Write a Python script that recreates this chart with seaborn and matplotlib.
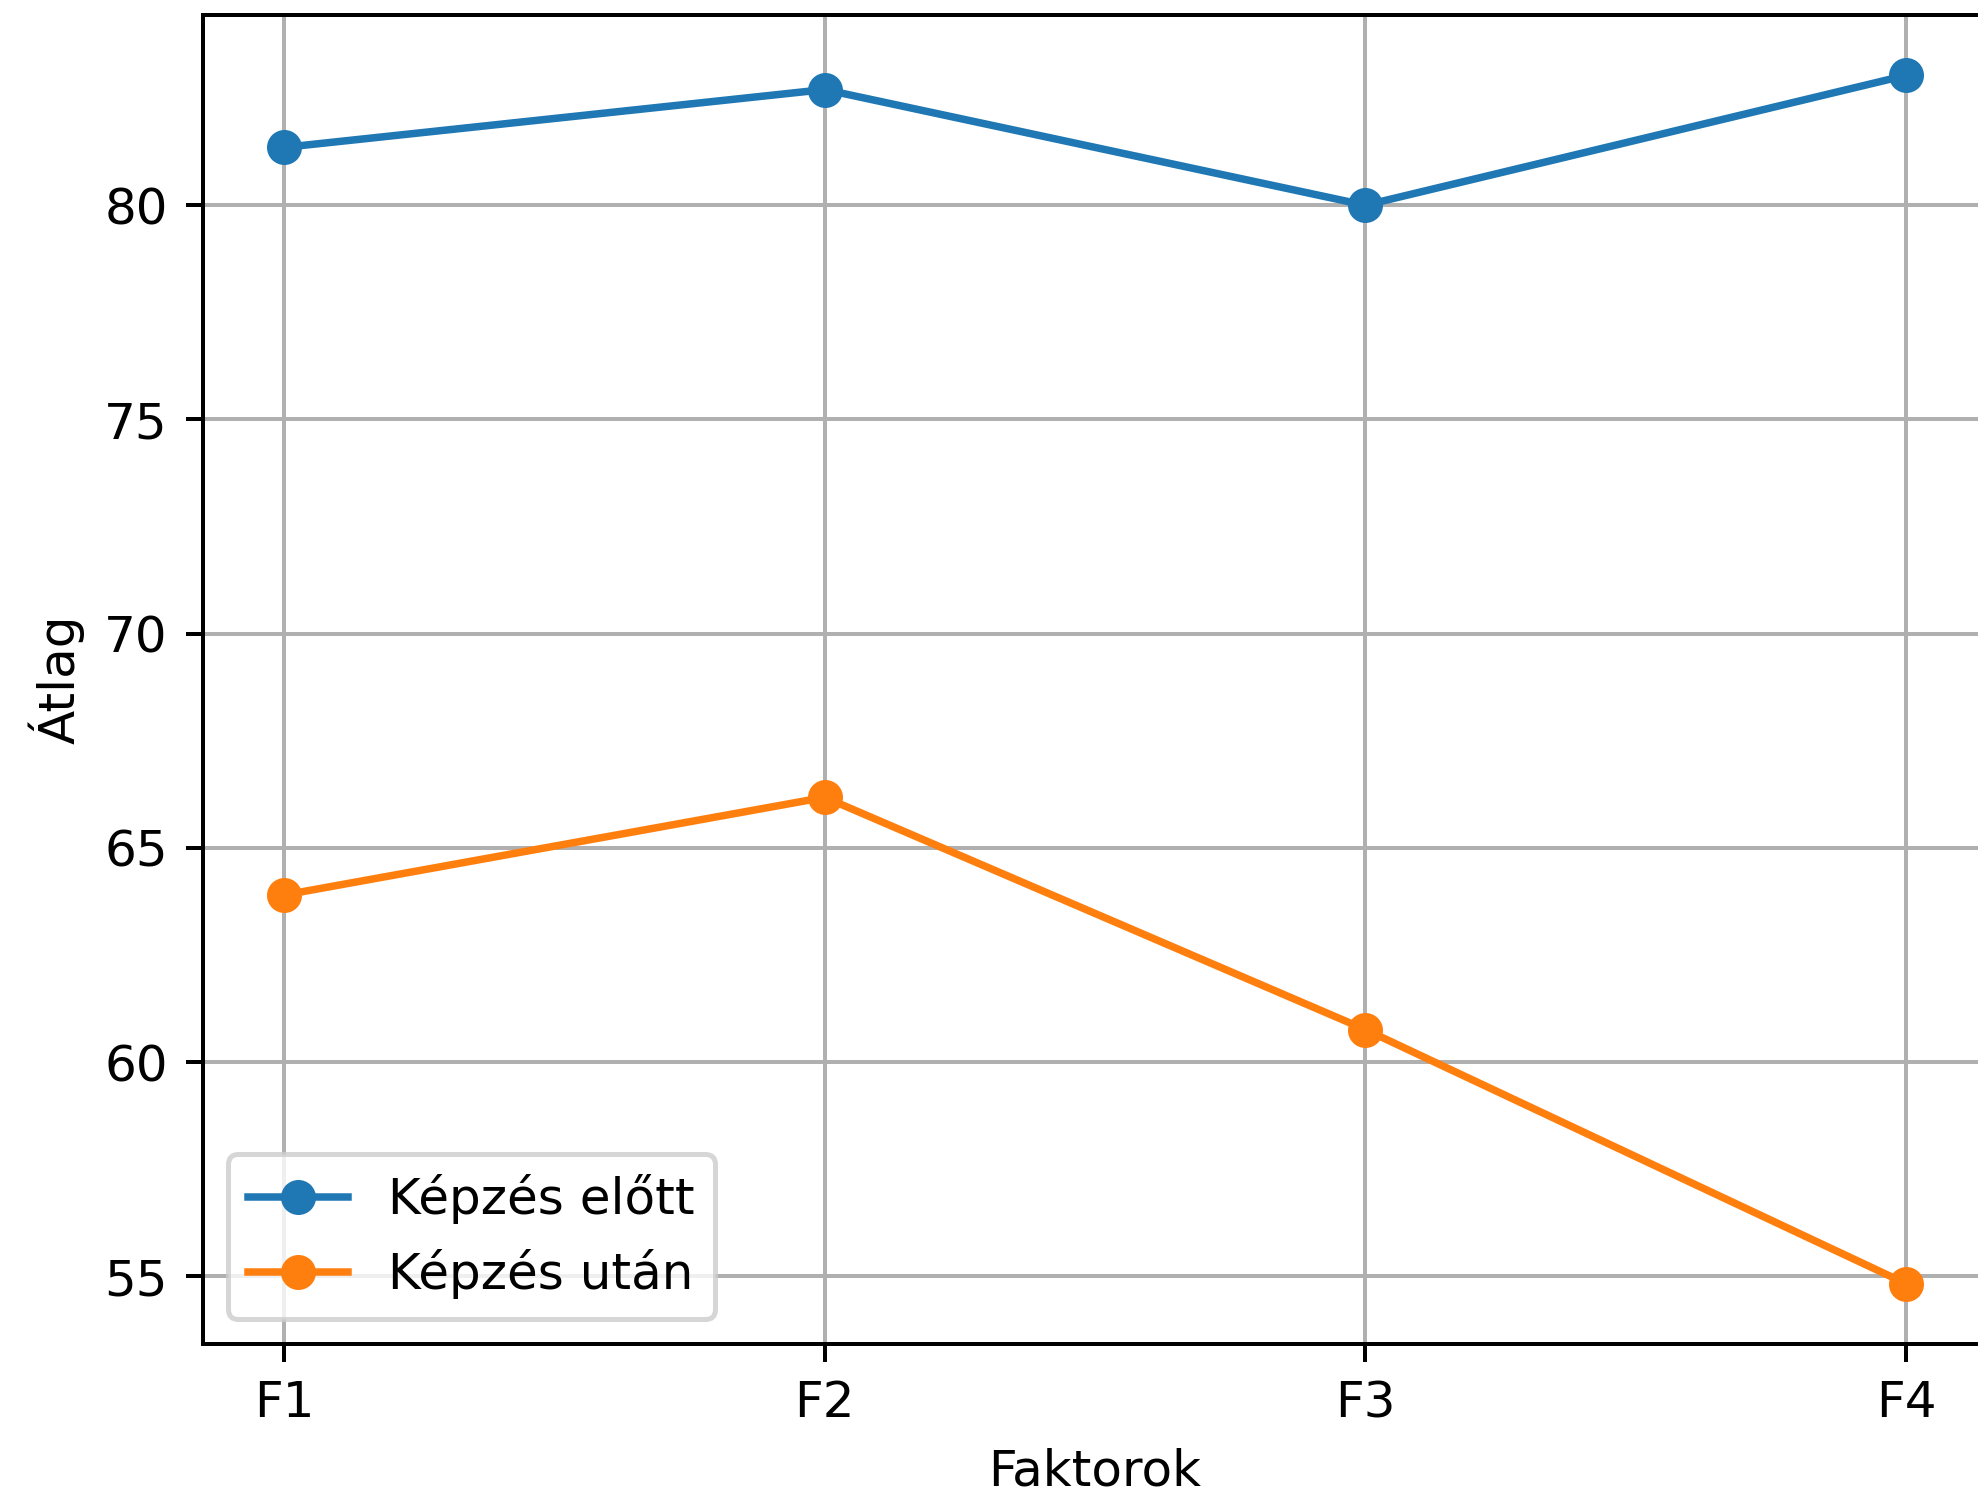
import pandas as pd
import matplotlib
matplotlib.use("Agg")
import matplotlib.pyplot as plt
import seaborn as sns

faktorok = ["F1", "F2", "F3", "F4"]
elott = [81.35, 82.7, 80.0, 83.03]
utan = [63.9, 66.18, 60.76, 54.83]

df = pd.DataFrame({"Faktorok": faktorok, "elott": elott, "utan": utan})

fig = plt.figure(figsize=(1979 / 360, 1495 / 360), dpi=360)
# axes runs a bit past the right edge, like the cropped original
ax = fig.add_axes([203 / 1979, 151 / 1495, 1784 / 1979, 1329 / 1495])

sns.lineplot(data=df, x="Faktorok", y="elott", marker="o", color="tab:blue",
             markeredgecolor="tab:blue", markeredgewidth=1, markersize=6,
             linewidth=1.5, label="Képzés előtt", ax=ax)
sns.lineplot(data=df, x="Faktorok", y="utan", marker="o", color="tab:orange",
             markeredgecolor="tab:orange", markeredgewidth=1, markersize=6,
             linewidth=1.5, label="Képzés után", ax=ax)

ax.set_xlabel("Faktorok")
ax.set_ylabel("Átlag")
ax.grid(True)
ax.legend(loc="lower left")

fig.savefig("out.png", dpi=360)
